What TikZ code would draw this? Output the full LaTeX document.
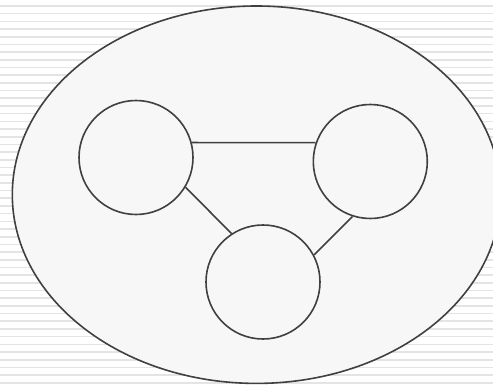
\documentclass[tikz,border=0pt]{standalone}
\usepackage{xcolor}
\usepackage{tikz}
\definecolor{stripegray}{HTML}{E4E4E4}
\definecolor{fillgray}{HTML}{F7F7F7}
\definecolor{linegray}{HTML}{404040}

\begin{document}
\begin{tikzpicture}[
    x=1pt, y=-1pt,
    stripe/.style={draw=stripegray, line width=1.6pt},
    blob/.style={draw=linegray, fill=fillgray, line width=1.6pt},
    vert/.style={draw=linegray, circle, line width=1.6pt,
                 minimum size=114pt, inner sep=0pt},
    edge/.style={draw=linegray, line width=1.6pt},
]
    \useasboundingbox (0,0) rectangle (493,388);
    \clip (0,0) rectangle (493,388);

    % background stripes
    \foreach \i in {0,...,49}
        \draw[stripe] (0,6+\i*7.69) -- (493,6+\i*7.69);

    % outer ellipse
    \draw[blob] (256.5,194.7) ellipse [x radius=244.2pt, y radius=188.7pt];

    % vertices
    \node[vert] (n1) at (136,157.5) {};
    \node[vert] (n2) at (370.3,161.5) {};
    \node[vert] (n3) at (263,282) {};

    % edges
    \draw[edge] (n1.15) -- (n2.161);
    \draw[edge] (n1.-31.6) -- (n3.123.3);
    \draw[edge] (n2.-108) -- (n3.28.2);
\end{tikzpicture}
\end{document}
